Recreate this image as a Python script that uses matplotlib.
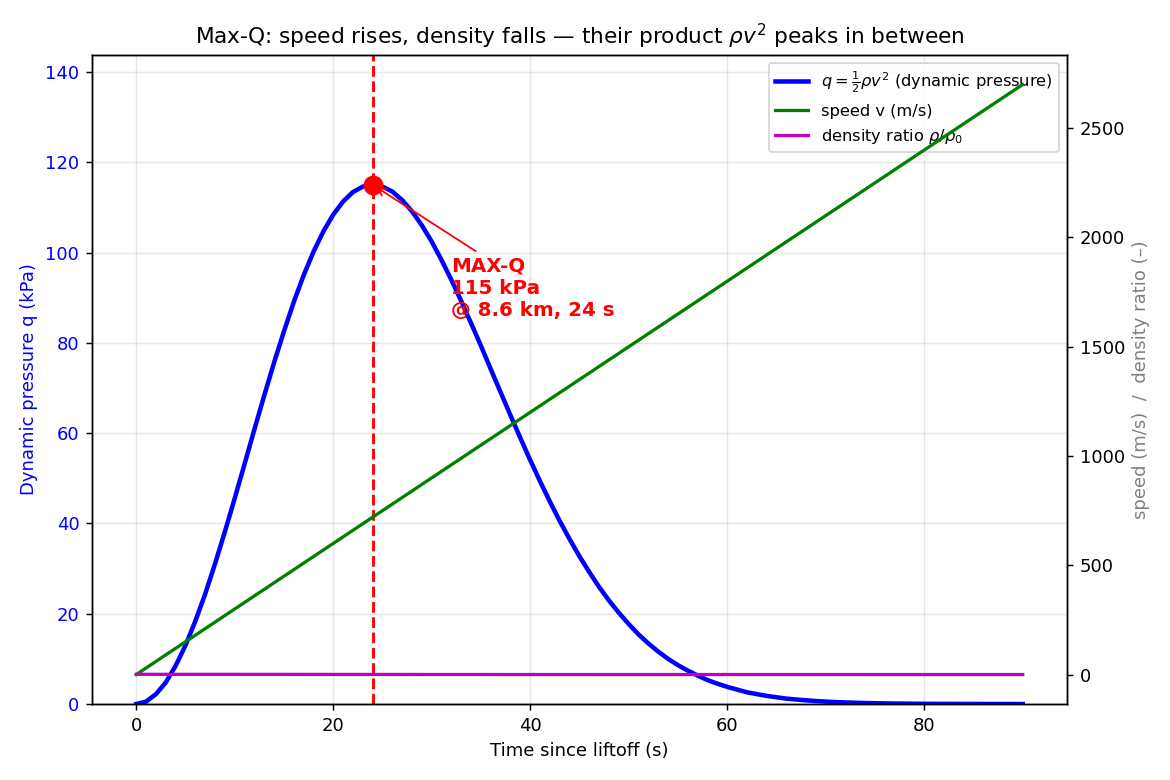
import matplotlib
matplotlib.use("Agg")
import matplotlib.pyplot as plt

# Time samples (s), one per second, and dynamic pressure q (kPa)
t_q = list(range(0, 91))
q_kpa = [0.0, 0.54, 2.2, 4.8, 8.5, 13.0, 18.4, 24.4, 31.1, 38.2,
         45.6, 53.2, 60.9, 68.4, 75.7, 82.6, 89.1, 95.0, 100.2, 104.7,
         108.4, 111.3, 113.4, 114.6, 115.0, 114.6, 113.5, 111.6, 109.1, 106.0,
         102.4, 98.3, 93.9, 89.2, 84.3, 79.3, 74.1, 69.0, 63.9, 58.9,
         54.0, 49.3, 44.8, 40.5, 36.5, 32.7, 29.2, 25.9, 22.9, 20.2,
         17.7, 15.4, 13.4, 11.6, 10.0, 8.6, 7.4, 6.3, 5.3, 4.5,
         3.8, 3.2, 2.6, 2.2, 1.8, 1.5, 1.2, 1.0, 0.82, 0.66,
         0.54, 0.43, 0.35, 0.28, 0.22, 0.18, 0.14, 0.11, 0.09, 0.07,
         0.05, 0.04, 0.03, 0.03, 0.02, 0.02, 0.01, 0.01, 0.01, 0.01, 0.0]

# speed (m/s) and density ratio (-) on the right axis
t_v = [0, 10, 20, 30, 40, 50, 60, 70, 80, 90]
speed = [0, 300, 600, 900, 1200, 1500, 1800, 2100, 2400, 2700]
density_ratio = [1.0, 0.84, 0.50, 0.21, 0.062, 0.013, 0.0019, 0.0002, 0.0, 0.0]

# Max-Q point
t_max = 24
q_max = 115
alt_max_km = 8.6

fig = plt.figure(figsize=(9, 6), dpi=130)
ax1 = fig.add_axes([0.0786, 0.0974, 0.8334, 0.8321])
ax2 = ax1.twinx()

l_q, = ax1.plot(t_q, q_kpa, color="blue", lw=2.5,
                label=r"$q=\frac{1}{2}\rho v^2$ (dynamic pressure)")
l_v, = ax2.plot(t_v, speed, color="green", lw=1.8, label="speed v (m/s)")
l_r, = ax2.plot(t_v, density_ratio, color="m", lw=1.8,
                label=r"density ratio $\rho/\rho_0$")

ax1.axvline(t_max, color="red", ls="--", lw=1.6)
ax1.plot([t_max], [q_max], "o", color="red", ms=10, zorder=5)
ax1.annotate(f"MAX-Q\n{q_max} kPa\n@ {alt_max_km} km, {t_max} s",
             xy=(t_max, q_max), xytext=(32, 86),
             color="red", fontsize=11, fontweight="bold",
             arrowprops=dict(arrowstyle="->", color="red", lw=1))

ax1.set_ylim(0, q_max * 1.25)
ax1.set_xlabel("Time since liftoff (s)")
ax1.set_ylabel("Dynamic pressure q (kPa)", color="blue")
ax1.tick_params(axis="y", labelcolor="blue")
ax1.grid(True, alpha=0.3)

ax2.set_ylabel("speed (m/s)  /  density ratio (–)", color="gray")

ax1.set_title(r"Max-Q: speed rises, density falls — their product $\rho v^2$ peaks in between")

ax1.legend(handles=[l_q, l_v, l_r], loc="upper right", fontsize=9)

fig.savefig("out.png", dpi=130)
